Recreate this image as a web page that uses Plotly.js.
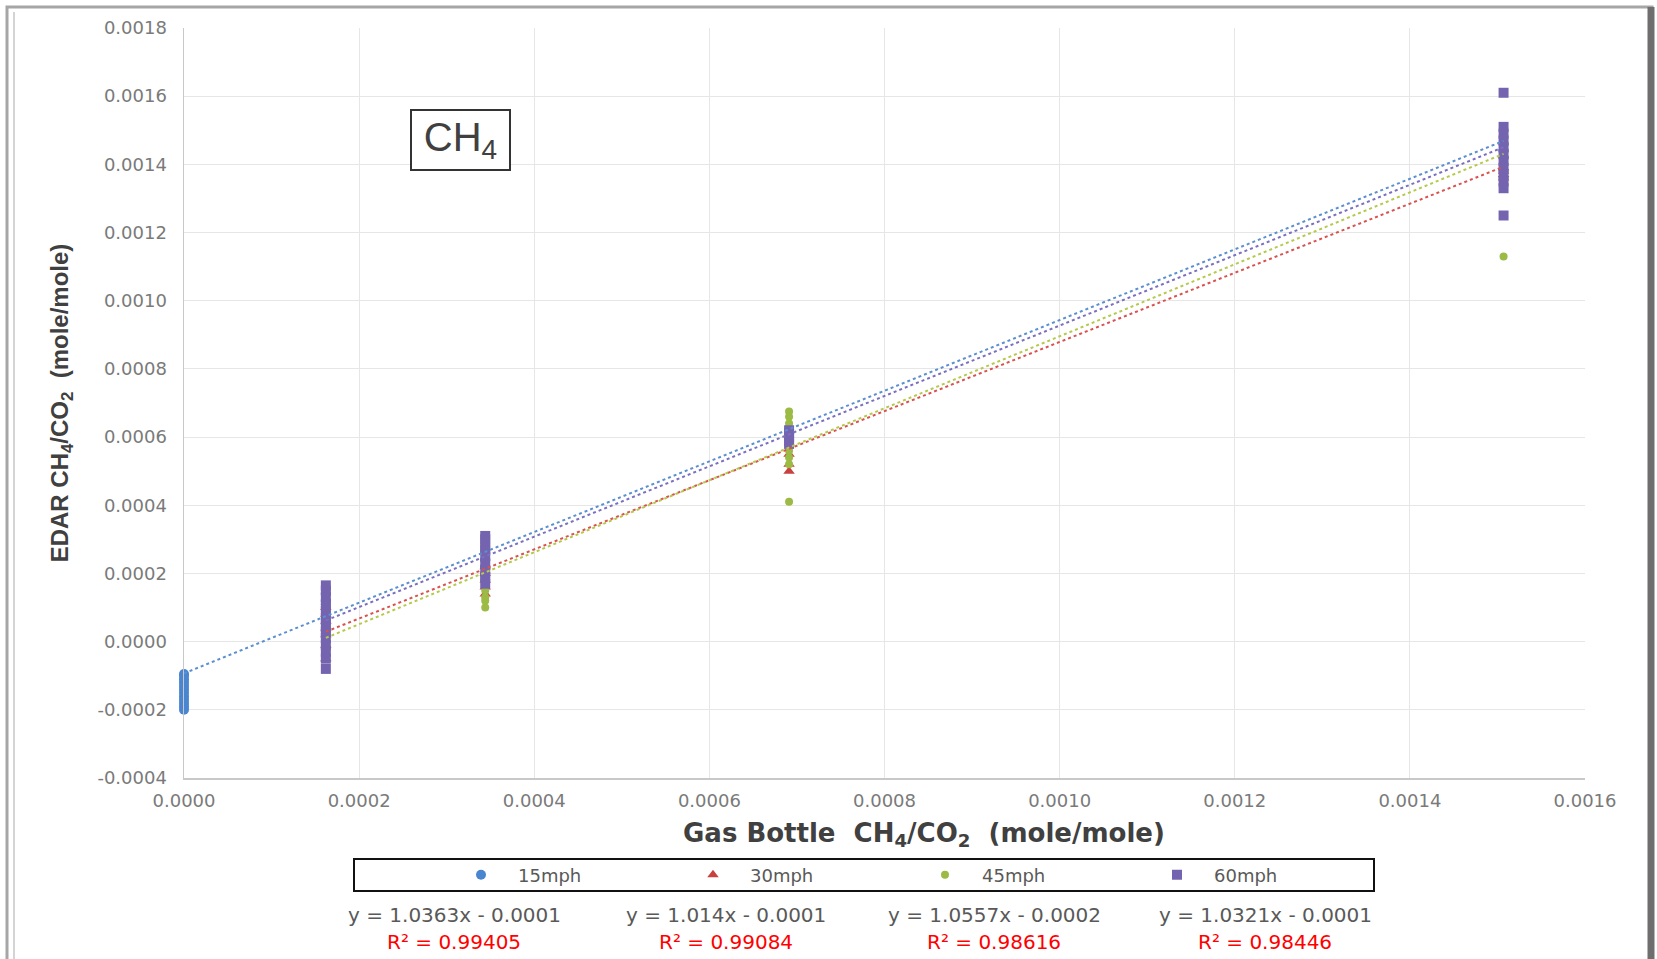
<!DOCTYPE html>
<html>
<head>
<meta charset="utf-8">
<script src="https://cdn.plot.ly/plotly-3.0.1.min.js"></script>
<style>
  html, body { margin: 0; padding: 0; background: #ffffff; }
  #chart { width: 1657px; height: 959px; }
</style>
</head>
<body>
<div id="chart"></div>
<script>
// ---- Data ----
const gasLevels = [0, 0.000162, 0.000344, 0.000691, 0.001507];   // Gas bottle CH4/CO2

const seriesNames = ['15mph', '30mph', '45mph', '60mph'];

// EDAR CH4/CO2 values, grouped by gas bottle level (same order as gasLevels)
const mph15 = [
  [-0.000095, -0.0001, -0.00011, -0.00012, -0.00013, -0.00014, -0.00015, -0.00016, -0.00017, -0.00018, -0.00019, -0.0002],
  [0.00014, 0.00012, 0.00011, 0.00009, 0.00007, 0.00005, 0.00003],
  [0.00026, 0.00024, 0.00022, 0.0002, 0.00019],
  [0.00062, 0.0006, 0.00058],
  [0.00146, 0.00144, 0.00142]
];
const mph30 = [
  [],
  [0.0001, 0.00008, 0.00006, 0.00004, 0.00002, -0.00001, -0.00005],
  [0.00022, 0.0002, 0.00018, 0.00016, 0.00014],
  [0.00055, 0.00052, 0.0005],
  [0.00139, 0.00138, 0.00137, 0.00136]
];
const mph45 = [
  [],
  [0.00007, 0.000055, 0.00004, 0.00002, 0.0, -0.00002],
  [0.0002, 0.00017, 0.00015, 0.00013, 0.00012, 0.0001],
  [0.000675, 0.00066, 0.00064, 0.00062, 0.0006, 0.00058, 0.00056, 0.00054, 0.00052, 0.00041],
  [0.00148, 0.00145, 0.00141, 0.00137, 0.00135, 0.00113]
];
const mph60 = [
  [],
  [0.000165, 0.00015, 0.00013, 0.00011, 0.00009, 0.00007, 0.00005, 0.00003, 0.00001, -0.00001, -0.00003, -0.00005, -0.00008],
  [0.00031, 0.0003, 0.00028, 0.00027, 0.00025, 0.00023, 0.00021, 0.00019, 0.00017],
  [0.00062, 0.00061, 0.0006, 0.00059, 0.00058],
  [0.00161, 0.00151, 0.00149, 0.00147, 0.00145, 0.00143, 0.00141, 0.00139, 0.00137, 0.00135, 0.00133, 0.00125]
];

// Linear trendlines (slope from the equations, intercepts)
const trendSlope = [1.0363, 1.014, 1.0557, 1.0321];
const trendIntercept = [-0.000093, -0.000135, -0.00016, -0.000105];
const eqLabels = ['y = 1.0363x - 0.0001', 'y = 1.014x - 0.0001', 'y = 1.0557x - 0.0002', 'y = 1.0321x - 0.0001'];
const r2Labels = ['R² = 0.99405', 'R² = 0.99084', 'R² = 0.98616', 'R² = 0.98446'];

const yTicks = [-0.0004, -0.0002, 0, 0.0002, 0.0004, 0.0006, 0.0008, 0.0010, 0.0012, 0.0014, 0.0016, 0.0018];
const xTicks = [0, 0.0002, 0.0004, 0.0006, 0.0008, 0.0010, 0.0012, 0.0014, 0.0016];
const yTickText = yTicks.map(v => v.toFixed(4));
const xTickText = xTicks.map(v => v.toFixed(4));

// ---- Styles ----
const colors = ['#4a86d0', '#c8413f', '#9bbb45', '#7464b0'];
const lineColors = ['#5b8fd0', '#d9524f', '#b5c94a', '#7b6fc0'];
const symbols = ['circle', 'triangle-up', 'circle', 'square'];
const sizes = [10, 10, 8, 10];
const allSeries = [mph15, mph30, mph45, mph60];

function flatten(groups) {
  const xs = [], ys = [];
  groups.forEach((vals, i) => vals.forEach(v => { xs.push(gasLevels[i]); ys.push(v); }));
  return {xs, ys};
}

const traces = [];
allSeries.forEach((groups, k) => {
  const f = flatten(groups);
  traces.push({
    type: 'scatter', mode: 'markers', name: seriesNames[k],
    x: f.xs, y: f.ys, cliponaxis: false,
    marker: {color: colors[k], symbol: symbols[k], size: sizes[k], line: {width: 0}},
    showlegend: true
  });
});
allSeries.forEach((groups, k) => {
  const f = flatten(groups);
  const x0 = Math.min(...f.xs), x1 = Math.max(...f.xs);
  traces.push({
    type: 'scatter', mode: 'lines', name: seriesNames[k] + ' trend',
    x: [x0, x1],
    y: [trendSlope[k] * x0 + trendIntercept[k], trendSlope[k] * x1 + trendIntercept[k]],
    line: {color: lineColors[k], width: 2, dash: 'dot'},
    showlegend: false, hoverinfo: 'skip'
  });
});

// pixel helpers for paper placement (plot area: x 184..1585, y 28..778)
const PL = 184, PR = 1585, PT = 28, PB = 778;
const px = v => (v - PL) / (PR - PL);
const py = v => (PB - v) / (PB - PT);

const eqX = [454, 726, 994, 1265];
const annotations = [];
eqLabels.forEach((t, k) => {
  annotations.push({xref: 'paper', yref: 'paper', x: px(eqX[k]), y: py(915), text: t, showarrow: false,
    xanchor: 'center', yanchor: 'middle', font: {family: 'DejaVu Sans', size: 20, color: '#595959'}});
  annotations.push({xref: 'paper', yref: 'paper', x: px(eqX[k]), y: py(942), text: r2Labels[k], showarrow: false,
    xanchor: 'center', yanchor: 'middle', font: {family: 'DejaVu Sans', size: 20, color: '#ff0000'}});
});
annotations.push({xref: 'paper', yref: 'paper', x: px(460), y: py(140), text: 'CH<sub>4</sub>', showarrow: false,
  xanchor: 'center', yanchor: 'middle', width: 93, height: 54,
  bordercolor: '#333333', borderwidth: 2, borderpad: 2, bgcolor: '#ffffff',
  font: {family: 'Liberation Sans', size: 40, color: '#404040'}});
// x-axis title (placed where the reference centres it)
annotations.push({xref: 'paper', yref: 'paper', x: px(924), y: py(834), showarrow: false,
  xanchor: 'center', yanchor: 'middle',
  text: '<b>Gas Bottle  CH<sub>4</sub>/CO<sub>2</sub>  (mole/mole)</b>',
  font: {family: 'DejaVu Sans', size: 26, color: '#404040'}});

const shapes = [
  // legend frame
  {type: 'rect', xref: 'paper', yref: 'paper', x0: px(354), x1: px(1374), y0: py(891), y1: py(859),
   line: {color: '#111111', width: 2}},
  // outer picture frame
  {type: 'rect', xref: 'paper', yref: 'paper', x0: px(7), x1: px(1652), y0: py(962), y1: py(7),
   line: {color: '#a6a6a6', width: 3}},
  {type: 'line', xref: 'paper', yref: 'paper', x0: px(14), x1: px(14), y0: py(962), y1: py(12),
   line: {color: '#d4d4d4', width: 2}},
  {type: 'line', xref: 'paper', yref: 'paper', x0: px(1651), x1: px(1651), y0: py(962), y1: py(7),
   line: {color: '#6e6e6e', width: 7}}
];

const tickFont = {family: 'DejaVu Sans', size: 18, color: '#7a7a7a'};

const layout = {
  width: 1657, height: 959,
  margin: {l: PL, r: 1657 - PR, t: PT, b: 959 - PB},
  paper_bgcolor: '#ffffff', plot_bgcolor: '#ffffff',
  showlegend: true,
  legend: {orientation: 'h', x: px(444), y: py(875), xanchor: 'left', yanchor: 'middle',
    font: {family: 'DejaVu Sans', size: 18, color: '#595959'},
    entrywidth: 153, entrywidthmode: 'pixels', bgcolor: 'rgba(0,0,0,0)', borderwidth: 0, itemwidth: 64},
  xaxis: {
    range: [0, 0.0016], tickvals: xTicks, ticktext: xTickText, tickfont: tickFont,
    showgrid: true, gridcolor: '#e6e6e6', gridwidth: 1, zeroline: false,
    showline: true, linecolor: '#c8c8c8', linewidth: 1.5, ticks: '', ticklabelstandoff: 6
  },
  yaxis: {
    range: [-0.0004, 0.0018], tickvals: yTicks, ticktext: yTickText, tickfont: tickFont,
    showgrid: true, gridcolor: '#e6e6e6', gridwidth: 1, zeroline: false,
    showline: true, linecolor: '#c8c8c8', linewidth: 1.5, ticks: '', ticklabelstandoff: 12,
    title: {text: 'EDAR CH<sub>4</sub>/CO<sub>2</sub>  (mole/mole)', standoff: 22,
      font: {family: 'Liberation Sans', size: 24, color: '#404040', weight: 'bold'}}
  },
  annotations: annotations,
  shapes: shapes
};

Plotly.newPlot('chart', traces, layout, {displayModeBar: false, staticPlot: true});
</script>
</body>
</html>
